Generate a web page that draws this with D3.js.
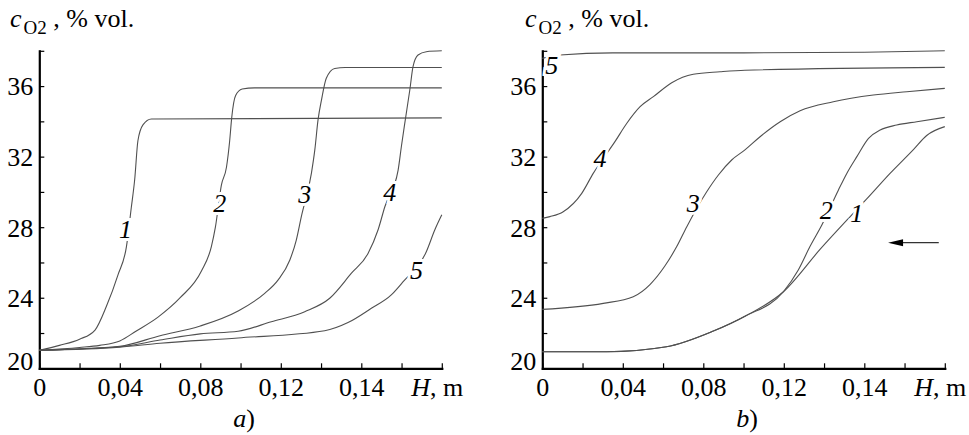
<!DOCTYPE html>
<meta charset="utf-8">
<html>
<head>
  <script src="https://d3js.org/d3.v7.min.js"></script>
  <style>
    body { margin: 0; background: #fff; }
    svg text { font-family: "Liberation Serif", "DejaVu Serif", serif; fill: #000; }
    .axis path { stroke: #000; stroke-width: 2.2; }
    .axis line { stroke: #000; stroke-width: 1.2; }
    .axis text { font-size: 26px; }
    .curve { fill: none; stroke: #505050; stroke-width: 1.1; }
    .clabel { font-size: 26px; font-style: italic; stroke: #fff; stroke-width: 6; paint-order: stroke; }
  </style>
</head>
<body>
<script>
// x: height H, m ; y: O2 concentration, % vol.
var yTicks = [20, 22, 24, 26, 28, 30, 32, 34, 36, 38];
var yLabels = ["20", "", "24", "", "28", "", "32", "", "36", ""];
var xTicks = [0, 0.02, 0.04, 0.06, 0.08, 0.10, 0.12, 0.14, 0.16, 0.18, 0.20];
var xLabels = ["0", "", "0,04", "", "0,08", "", "0,12", "", "0,14", "", ""];

// panel a)
var a1 = [[0,21.02],[0.01,21.3],[0.02,21.65],[0.0277,22.17],[0.0333,23.5],[0.0391,25.3],[0.0433,26.9],[0.0457,29.1],[0.0474,30.7],[0.049,32.9],[0.0515,33.8],[0.0557,34.13],[0.2,34.2]];
var a2 = [[0,21.02],[0.02,21.18],[0.03,21.3],[0.04,21.55],[0.048,22.1],[0.059,22.9],[0.07,24.0],[0.0805,25.5],[0.0855,26.9],[0.0875,28.0],[0.0905,30.4],[0.093,31.4],[0.0946,32.9],[0.0956,34.2],[0.0975,35.45],[0.1008,35.83],[0.107,35.9],[0.2,35.9]];
var a3 = [[0,21.02],[0.04,21.25],[0.06,21.85],[0.08,22.4],[0.0988,23.25],[0.112,24.25],[0.1186,25.0],[0.1245,26.14],[0.1277,27.27],[0.1302,28.6],[0.1352,31.05],[0.1369,32.38],[0.1385,34.08],[0.1402,35.2],[0.1426,36.44],[0.1468,37.0],[0.152,37.05],[0.2,37.05]];
var a4 = [[0,21.02],[0.04,21.22],[0.06,21.6],[0.08,21.95],[0.0988,22.1],[0.1153,22.64],[0.1319,23.21],[0.1443,23.97],[0.1551,25.39],[0.1634,26.52],[0.1683,27.84],[0.1717,29.16],[0.1783,31.24],[0.1799,32.56],[0.1816,33.89],[0.1841,35.78],[0.1857,37.1],[0.1882,37.76],[0.1923,37.95],[0.2,38.0]];
var a5 = [[0,21.02],[0.04,21.2],[0.06,21.42],[0.0988,21.72],[0.1418,22.13],[0.1534,22.59],[0.165,23.4],[0.1749,24.16],[0.1808,24.91],[0.1923,26.61],[0.1965,27.84],[0.2,28.7]];
var aLabels = [["1",0.0428,27.9],["2",0.0897,29.35],["3",0.1319,29.9],["4",0.1741,30.0],["5",0.1874,25.57]];

// panel b)
var b1 = [[0,20.94],[0.0319,20.94],[0.0617,21.22],[0.085,22.11],[0.1007,22.95],[0.1198,24.34],[0.1381,26.75],[0.153,28.6],[0.1612,29.6],[0.1728,31.05],[0.1844,32.4],[0.191,33.2],[0.2,33.7]];
var b2 = [[0,20.94],[0.0319,20.94],[0.0617,21.22],[0.085,22.11],[0.1007,22.95],[0.1198,24.34],[0.1272,25.57],[0.133,26.9],[0.1389,28.12],[0.1471,30.1],[0.1513,31.05],[0.1563,32.0],[0.1621,33.04],[0.1679,33.51],[0.1761,33.79],[0.1861,33.98],[0.2,34.23]];
var b3 = [[0,23.34],[0.0303,23.68],[0.0452,24.06],[0.0535,24.75],[0.0609,25.8],[0.0668,26.9],[0.0718,28.03],[0.0817,30.01],[0.0875,30.96],[0.0941,31.81],[0.1007,32.38],[0.1082,33.13],[0.1182,33.98],[0.1281,34.6],[0.1446,35.11],[0.1645,35.49],[0.1811,35.68],[0.2,35.87]];
var b4 = [[0,28.5],[0.0038,28.6],[0.0104,28.88],[0.0196,29.92],[0.0253,31.05],[0.0361,32.85],[0.042,33.89],[0.0486,34.83],[0.0552,35.4],[0.0643,36.19],[0.075,36.67],[0.0883,36.81],[0.1007,36.9],[0.2,37.06]];
var b5 = [[0,37.57],[0.0088,37.76],[0.035,37.88],[0.1,37.88],[0.16,37.92],[0.2,38.0]];
var bLabels = [["5",0.0047,37.2],["4",0.0287,31.9],["3",0.075,29.35],["2",0.1411,28.97],["1",0.1563,28.79]];
var arrowH = [0.197, 0.1718];
var arrowC = 27.12;

var serif = "Liberation Serif, DejaVu Serif, serif";

var svg = d3.select("body").append("svg")
  .attr("width", 969)
  .attr("height", 435)
  .attr("font-family", serif);

var y = d3.scaleLinear().domain([20, 38]).range([368.3, 50.8]);

var line = d3.line().curve(d3.curveMonotoneX);

function panel(x0, series, labels, tag, titleX) {
  var x = d3.scaleLinear().domain([0, 0.2]).range([x0, x0 + 402.5]);
  line.x(d => x(d[0])).y(d => y(d[1]));

  //Y axis
  svg.append("g")
    .attr("class", "axis")
    .attr("transform", `translate(${x0},0)`)
    .call(d3.axisLeft(y)
      .tickValues(yTicks)
      .tickSizeInner(-5)
      .tickSizeOuter(0)
      .tickPadding(6)
      .tickFormat((d, i) => yLabels[i]))
    .attr("font-family", serif)
    .selectAll("text")
    .attr("dy", (d, i) => i === 0 ? "0.05em" : "0.34em");

  //X axis
  svg.append("g")
    .attr("class", "axis")
    .attr("transform", `translate(0,${y(20)})`)
    .call(d3.axisBottom(x)
      .tickValues(xTicks)
      .tickSizeInner(-5)
      .tickSizeOuter(0)
      .tickPadding(9)
      .tickFormat((d, i) => xLabels[i]))
    .attr("font-family", serif);

  svg.selectAll(".axis .domain").attr("stroke-linecap", "square");

  //curves
  svg.append("g").selectAll("path")
    .data(series)
    .enter().append("path")
    .attr("class", "curve")
    .attr("d", d => line(d));

  //curve numbers
  svg.append("g").selectAll("text")
    .data(labels)
    .enter().append("text")
    .attr("class", "clabel")
    .attr("text-anchor", "middle")
    .attr("x", d => x(d[1]))
    .attr("y", d => y(d[2]))
    .attr("dy", "0.35em")
    .text(d => d[0]);

  //axis titles
  var t = svg.append("text")
    .attr("x", titleX)
    .attr("y", 27)
    .attr("font-size", 26);
  t.append("tspan").attr("font-style", "italic").text("c");
  t.append("tspan").attr("font-size", 19).attr("dy", 7).attr("dx", 2).text("O");
  t.append("tspan").attr("font-size", 19).text("2");
  t.append("tspan").attr("dy", -7).text(" , % vol.");

  var h = svg.append("text")
    .attr("x", x0 + 372)
    .attr("y", 396)
    .attr("font-size", 26);
  h.append("tspan").attr("font-style", "italic").text("H");
  h.append("tspan").text(", m");

  var p = svg.append("text")
    .attr("x", x0 + 194)
    .attr("y", 427)
    .attr("font-size", 26);
  p.append("tspan").attr("font-style", "italic").text(tag);
  p.append("tspan").text(")");

  return x;
}

panel(39.3, [a1, a2, a3, a4, a5], aLabels, "a", 10);
var xb = panel(542.3, [b1, b2, b3, b4, b5], bLabels, "b", 525);

//arrow on panel b
var ax0 = xb(arrowH[0]), ax1 = xb(arrowH[1]), ay = y(arrowC);
svg.append("line")
  .attr("x1", ax0).attr("x2", ax1 + 10)
  .attr("y1", ay).attr("y2", ay)
  .attr("stroke", "#333").attr("stroke-width", 1.2);
svg.append("path")
  .attr("d", `M${ax1},${ay} L${ax1 + 15},${ay - 3.5} L${ax1 + 15},${ay + 3.5} Z`)
  .attr("fill", "#000");
</script>
</body>
</html>
